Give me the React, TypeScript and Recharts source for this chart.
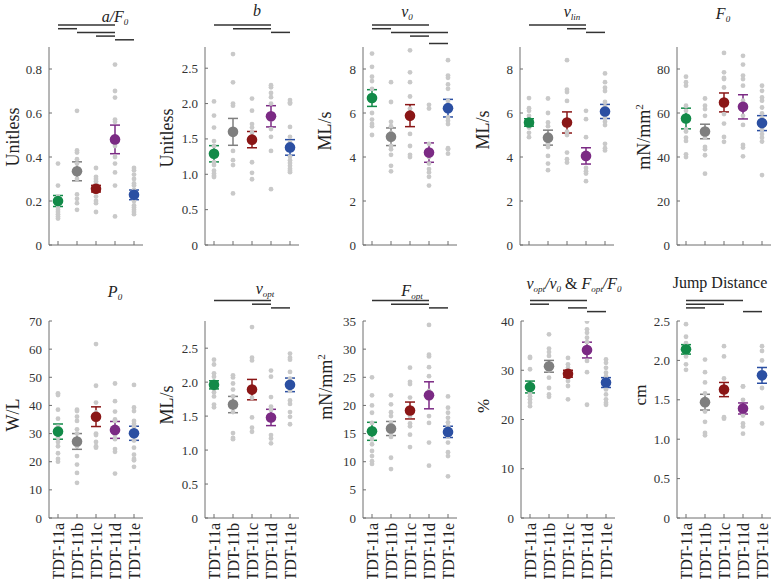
import React from "react"
import { ScatterChart, Scatter, XAxis, YAxis, ErrorBar, ReferenceLine } from "recharts"

const groups = ["TDT-11a", "TDT-11b", "TDT-11c", "TDT-11d", "TDT-11e"]
const groupColors = ["#128a48", "#7f7f7f", "#8a1616", "#7b2a84", "#2b4fa2"]

// a/F0
const aF0Values = [
  [0.37, 0.27, 0.22, 0.19, 0.17, 0.16, 0.15, 0.14, 0.13, 0.12],
  [0.61, 0.43, 0.42, 0.39, 0.37, 0.33, 0.3, 0.23, 0.21, 0.19, 0.16],
  [0.35, 0.31, 0.3, 0.29, 0.28, 0.27, 0.26, 0.25, 0.24, 0.22, 0.2, 0.19, 0.15],
  [0.82, 0.7, 0.67, 0.57, 0.56, 0.45, 0.4, 0.37, 0.33, 0.27, 0.13],
  [0.35, 0.34, 0.32, 0.3, 0.28, 0.27, 0.25, 0.23, 0.21, 0.2, 0.18, 0.17, 0.16, 0.15, 0.14],
]
const aF0Means = [0.2, 0.335, 0.256, 0.48, 0.228]
const aF0Sem = [0.025, 0.043, 0.015, 0.065, 0.022]
const aF0Sig = [[0, 3, 0], [0, 1, 1], [1, 3, 2], [2, 3, 3], [3, 4, 4]]

// b
const bValues = [
  [2.03, 1.83, 1.66, 1.47, 1.4, 1.17, 1.13, 1.05, 1.01, 0.98, 0.96],
  [2.7, 2.3, 2.0, 1.97, 1.6, 1.33, 1.2, 1.13, 0.73],
  [2.07, 1.9, 1.71, 1.66, 1.59, 1.49, 1.17, 1.02, 0.93],
  [2.26, 2.23, 2.15, 2.09, 2.0, 1.78, 1.64, 1.53, 1.33, 0.79],
  [2.05, 2.02, 2.0, 1.67, 1.53, 1.45, 1.38, 1.25, 1.2, 1.16, 1.12, 1.08, 1.05, 1.03],
]
const bMeans = [1.29, 1.6, 1.49, 1.82, 1.38]
const bSem = [0.115, 0.19, 0.115, 0.15, 0.11]
const bSig = [[0, 3, 0], [1, 3, 1], [3, 4, 2]]

// v0
const v0Values = [
  [8.7, 8.1, 7.65, 7.45, 7.1, 6.7, 6.0, 5.7, 5.5, 5.4, 5.0],
  [7.4, 6.5, 5.6, 5.4, 5.1, 4.5, 4.35, 4.1, 3.6, 3.35],
  [8.85, 7.85, 7.4, 6.75, 6.2, 5.9, 5.05, 4.5, 4.1, 4.0],
  [6.37, 6.2, 4.6, 4.0, 3.7, 3.45, 3.3, 3.1, 2.7],
  [8.4, 7.7, 7.6, 7.3, 7.1, 6.55, 5.8, 5.65, 5.5, 4.4, 4.35, 4.15],
]
const v0Means = [6.68, 4.92, 5.88, 4.2, 6.22]
const v0Sem = [0.38, 0.4, 0.5, 0.44, 0.4]
const v0Sig = [[0, 3, 0], [0, 1, 1], [1, 4, 2], [2, 3, 3], [3, 4, 5]]

// vlin
const vlinValues = [
  [6.68, 6.22, 6.1, 5.87, 5.72, 5.57, 5.34, 5.1, 4.9],
  [6.66, 6.0, 5.57, 5.4, 4.96, 4.6, 4.45, 4.05, 3.7, 3.4],
  [8.4, 7.06, 6.95, 6.55, 5.15, 5.0, 4.2, 3.9, 3.75],
  [6.1, 5.72, 4.9, 4.0, 3.5, 3.35, 3.25, 2.9],
  [7.8, 7.4, 7.15, 7.0, 6.5, 6.3, 6.0, 5.8, 5.6, 5.45, 4.6, 4.4, 4.3],
]
const vlinMeans = [5.57, 4.88, 5.57, 4.05, 6.07]
const vlinSem = [0.17, 0.34, 0.48, 0.37, 0.32]
const vlinSig = [[0, 3, 0], [2, 3, 1], [3, 4, 2]]

// F0
const f0Values = [
  [76.5, 74, 72.4, 63.3, 61, 57, 52.6, 51.6, 48.8, 47.3, 41.2, 40],
  [66.6, 63.3, 61.8, 58.7, 51.6, 48.8, 44.6, 43.5, 40.8, 32.4],
  [87.3, 78.5, 75.9, 75.4, 71.6, 65.3, 59.5, 55.2, 49.1, 46.9],
  [86, 82, 77, 75.4, 72.4, 65.6, 58.7, 54.6, 45.5, 44.3, 40.3],
  [72.4, 70.1, 67.1, 65.6, 62.5, 59.8, 57.7, 56.4, 54.6, 52.6, 50.4, 48.8, 47, 31.8],
]
const f0Means = [57.5, 51.6, 64.8, 62.8, 55.4]
const f0Sem = [4.7, 3.3, 4.3, 5.5, 3.4]
const f0Sig: number[][] = []

// P0
const p0Values = [
  [44.3, 43.7, 38.5, 35.3, 32.5, 30.5, 28.5, 27, 25.5, 23, 21, 20],
  [38.5, 38, 36, 34.5, 31.5, 30, 28, 25.5, 22, 19, 16, 12.5],
  [61.8, 47, 41, 37.5, 35, 30, 29.5, 27, 25.5, 25],
  [47.8, 41.5, 37.8, 35, 34.5, 32, 29.5, 28, 24.5, 23.5, 15.8],
  [47.3, 39.3, 38, 34.5, 33.5, 32.5, 30, 27.5, 25, 22.5, 21, 20.5, 18.2],
]
const p0Means = [30.7, 27.2, 36, 31.3, 30.1]
const p0Sem = [2.7, 2.8, 3.5, 3, 2.5]
const p0Sig: number[][] = []

// vopt
const voptValues = [
  [2.33, 2.26, 2.13, 2.08, 2.0, 1.95, 1.9, 1.85, 1.79, 1.67, 1.63],
  [2.1, 2.07, 1.98, 1.89, 1.79, 1.67, 1.56, 1.25, 1.18, 1.16],
  [2.81, 2.36, 2.32, 1.88, 1.86, 1.77, 1.48, 1.33, 1.27],
  [2.17, 2.08, 1.78, 1.64, 1.59, 1.49, 1.22, 1.17, 1.1],
  [2.42, 2.36, 2.33, 2.15, 2.05, 1.95, 1.87, 1.73, 1.68, 1.56, 1.49, 1.38],
]
const voptMeans = [1.96, 1.67, 1.89, 1.48, 1.96]
const voptSem = [0.06, 0.12, 0.15, 0.12, 0.1]
const voptSig = [[0, 3, 0], [2, 3, 1], [3, 4, 2]]

// Fopt
const foptValues = [
  [25, 21.8, 20, 18.7, 16.9, 14, 13.1, 11.9, 11, 10.1, 9.6],
  [21.8, 20.2, 18.8, 18.1, 16.9, 16, 15.1, 14.4, 10.7, 8.7],
  [26.7, 24.2, 23.8, 21.4, 19.4, 18.1, 16.8, 16.3, 14.8, 12.6],
  [34.3, 29, 28.7, 26.8, 25.2, 22.6, 18.1, 16.9, 13.4, 9.3],
  [21.6, 19.6, 18.7, 17.8, 17, 16.3, 15.7, 15.1, 14.5, 13.4, 11.7, 11, 7.4],
]
const foptMeans = [15.4, 15.9, 19.1, 21.8, 15.3]
const foptSem = [1.6, 1.25, 1.5, 2.4, 1.0]
const foptSig = [[0, 3, 0], [1, 3, 1], [3, 4, 2]]

// vopt/v0 & Fopt/F0
const ratioValues = [
  [32.7, 32.5, 30.2, 27.1, 25.4, 24.7, 24.1, 23.4, 22.7],
  [37.3, 34.4, 33.7, 32.9, 30.8, 30, 28.5, 26.4, 25.1, 24.6],
  [32.5, 31.2, 30.5, 29.8, 29.2, 28.5, 27.8, 26.8, 24.1],
  [39.9, 38.3, 37.6, 36.6, 35.7, 34.2, 31.9, 29.6, 23],
  [32.2, 31.5, 30.5, 29.5, 28.8, 27.8, 27.1, 26.1, 25.1, 24.1, 23.4, 23],
]
const ratioMeans = [26.6, 30.8, 29.3, 34.1, 27.5]
const ratioSem = [1.2, 1.2, 0.7, 1.6, 1.0]
const ratioSig = [[0, 3, 0], [0, 1, 1], [2, 3, 2], [3, 4, 3]]

// Jump distance
const jumpValues = [
  [2.46, 2.3, 2.22, 2.2, 2.18, 2.12, 2.05, 1.95, 1.88],
  [2.01, 1.85, 1.72, 1.58, 1.35, 1.22, 1.08, 1.05],
  [2.18, 2.05, 1.77, 1.63, 1.28, 1.26],
  [1.67, 1.67, 1.5, 1.38, 1.3, 1.2, 1.16, 1.07],
  [2.18, 2.12, 2.0, 1.85, 1.65, 1.4, 1.2],
]
const jumpMeans = [2.14, 1.47, 1.63, 1.39, 1.81]
const jumpSem = [0.06, 0.1, 0.09, 0.07, 0.1]
const jumpSig = [[0, 3, 0], [0, 2, 1], [0, 1, 2], [3, 4, 3]]

const serif = "Liberation Serif, DejaVu Serif, serif"
const axisColor = "#6e6e6e"

function XTick({ x, y, payload, showLabel }: any) {
  return (
    <g>
      <line x1={x} x2={x} y1={y} y2={y - 4} stroke={axisColor} />
      {showLabel && (
        <text
          x={x}
          y={y + 5}
          transform={`rotate(-90 ${x} ${y + 5})`}
          textAnchor="end"
          dy="0.35em"
          style={{ fontFamily: serif, fontSize: 16 }}
          fill="#222"
        >
          {groups[payload.value - 1]}
        </text>
      )}
    </g>
  )
}

function YTick({ x, y, payload, decimals }: any) {
  const v = payload.value
  const label = v === 0 ? "0" : v.toFixed(decimals)
  return (
    <g>
      <line x1={x + 7} x2={x + 10} y1={y} y2={y} stroke={axisColor} />
      <text x={x} y={y} textAnchor="end" dy="0.35em" style={{ fontFamily: serif, fontSize: 13 }} fill="#333">
        {label}
      </text>
    </g>
  )
}

function Panel({ axisX, bottomRow, values, means, sem, sig, yMax, yTicks, decimals }: any) {
  const plotH = bottomRow ? 197 : 198
  const xh = bottomRow ? 60 : 5
  const mb = bottomRow ? 3 : 10
  const top = bottomRow ? 274 : 0
  const base = bottomRow ? 20.5 : 22
  const cloud = values.flatMap((vals: number[], i: number) => vals.map((v) => ({ x: i + 1, y: v })))
  return (
    <div style={{ position: "absolute", left: axisX - 48, top }}>
      <ScatterChart width={146} height={47 + plotH + xh + mb} margin={{ top: 47, right: 4, bottom: mb, left: 0 }}>
        <XAxis
          type="number"
          dataKey="x"
          domain={[1 - 9 / 19, 5 + 9 / 19]}
          ticks={[1, 2, 3, 4, 5]}
          interval={0}
          height={xh}
          tickSize={0}
          tickMargin={0}
          tickLine={false}
          axisLine={{ stroke: axisColor }}
          tick={<XTick showLabel={bottomRow} />}
          allowDataOverflow
        />
        <YAxis
          type="number"
          dataKey="y"
          domain={[0, yMax]}
          ticks={yTicks}
          interval={0}
          width={48}
          tickSize={0}
          tickMargin={7}
          tickLine={false}
          axisLine={{ stroke: axisColor }}
          tick={<YTick decimals={decimals} />}
          allowDataOverflow
        />
        <Scatter
          data={cloud}
          isAnimationActive={false}
          shape={(p: any) => <circle cx={p.cx} cy={p.cy} r={2.4} fill="#c9c9c9" />}
        />
        {means.map((m: number, i: number) => (
          <Scatter
            key={i}
            data={[{ x: i + 1, y: m, err: sem[i] }]}
            isAnimationActive={false}
            shape={(p: any) => <circle cx={p.cx} cy={p.cy} r={5.3} fill={groupColors[i]} />}
          >
            <ErrorBar
              dataKey="err"
              direction="y"
              width={5}
              stroke={groupColors[i]}
              strokeWidth={1.5}
              isAnimationActive={false}
            />
          </Scatter>
        ))}
        {sig.map(([a, b, lvl]: number[], k: number) => {
          const y = yMax * (1 + (base - 3.7 * lvl) / plotH)
          return (
            <ReferenceLine
              key={k}
              segment={[{ x: a + 1, y }, { x: b + 1, y }]}
              stroke="#333"
              strokeWidth={1.5}
              ifOverflow="visible"
            />
          )
        })}
      </ScatterChart>
    </div>
  )
}

const sub = (t: string) => <sub style={{ fontSize: 9, verticalAlign: "-0.3em" }}>{t}</sub>

function Title({ x, y, children }: any) {
  return (
    <div
      style={{
        position: "absolute",
        left: x,
        top: y,
        transform: "translate(-50%, -50%)",
        whiteSpace: "nowrap",
        fontFamily: serif,
        fontSize: 16,
        color: "#222",
        lineHeight: 1,
      }}
    >
      {children}
    </div>
  )
}

function YLabel({ x, y, children, size = 18 }: any) {
  return (
    <div
      style={{
        position: "absolute",
        left: x,
        top: y,
        transform: "translate(-50%, -50%) rotate(-90deg)",
        whiteSpace: "nowrap",
        fontFamily: serif,
        fontSize: size,
        color: "#222",
        lineHeight: 1,
      }}
    >
      {children}
    </div>
  )
}

export default function App() {
  const it = { fontStyle: "italic" as const }
  return (
    <div
      style={{
        position: "absolute",
        left: 0,
        top: 0,
        width: 773,
        height: 579,
        overflow: "hidden",
        background: "#fff",
        fontFamily: serif,
      }}
    >
      <Panel axisX={49} values={aF0Values} means={aF0Means} sem={aF0Sem} sig={aF0Sig} yMax={0.9} yTicks={[0, 0.2, 0.4, 0.6, 0.8]} decimals={1} />
      <Panel axisX={205} values={bValues} means={bMeans} sem={bSem} sig={bSig} yMax={2.8} yTicks={[0, 0.5, 1, 1.5, 2, 2.5]} decimals={1} />
      <Panel axisX={363} values={v0Values} means={v0Means} sem={v0Sem} sig={v0Sig} yMax={9} yTicks={[0, 2, 4, 6, 8]} decimals={0} />
      <Panel axisX={520} values={vlinValues} means={vlinMeans} sem={vlinSem} sig={vlinSig} yMax={9} yTicks={[0, 2, 4, 6, 8]} decimals={0} />
      <Panel axisX={677} values={f0Values} means={f0Means} sem={f0Sem} sig={f0Sig} yMax={90} yTicks={[0, 20, 40, 60, 80]} decimals={0} />

      <Panel bottomRow axisX={49} values={p0Values} means={p0Means} sem={p0Sem} sig={p0Sig} yMax={70} yTicks={[0, 10, 20, 30, 40, 50, 60, 70]} decimals={0} />
      <Panel bottomRow axisX={205} values={voptValues} means={voptMeans} sem={voptSem} sig={voptSig} yMax={2.9} yTicks={[0, 0.5, 1, 1.5, 2, 2.5]} decimals={1} />
      <Panel bottomRow axisX={363} values={foptValues} means={foptMeans} sem={foptSem} sig={foptSig} yMax={35} yTicks={[0, 5, 10, 15, 20, 25, 30, 35]} decimals={0} />
      <Panel bottomRow axisX={521} values={ratioValues} means={ratioMeans} sem={ratioSem} sig={ratioSig} yMax={40} yTicks={[0, 10, 20, 30, 40]} decimals={0} />
      <Panel bottomRow axisX={677} values={jumpValues} means={jumpMeans} sem={jumpSem} sig={jumpSig} yMax={2.5} yTicks={[0, 0.5, 1, 1.5, 2, 2.5]} decimals={1} />

      <Title x={115} y={18}><span style={it}>a/F{sub("0")}</span></Title>
      <Title x={257} y={11}><span style={it}>b</span></Title>
      <Title x={407} y={13}><span style={it}>v{sub("0")}</span></Title>
      <Title x={572} y={13}><span style={it}>v{sub("lin")}</span></Title>
      <Title x={723} y={15}><span style={it}>F{sub("0")}</span></Title>
      <Title x={115} y={293}><span style={it}>P{sub("0")}</span></Title>
      <Title x={265} y={290}><span style={it}>v{sub("opt")}</span></Title>
      <Title x={412} y={292}><span style={it}>F{sub("opt")}</span></Title>
      <Title x={574} y={285}><span style={it}>v{sub("opt")}/v{sub("0")}</span> &amp; <span style={it}>F{sub("opt")}/F{sub("0")}</span></Title>
      <Title x={720} y={283}>Jump Distance</Title>

      <YLabel x={13} y={137}>Unitless</YLabel>
      <YLabel x={167} y={138}>Unitless</YLabel>
      <YLabel x={325} y={131}>ML/s</YLabel>
      <YLabel x={483} y={130}>ML/s</YLabel>
      <YLabel x={643} y={137}>mN/mm<sup style={{ fontSize: 11 }}>2</sup></YLabel>
      <YLabel x={13} y={415}>W/L</YLabel>
      <YLabel x={167} y={405}>ML/s</YLabel>
      <YLabel x={325} y={387}>mN/mm<sup style={{ fontSize: 11 }}>2</sup></YLabel>
      <YLabel x={483} y={406} size={17}>%</YLabel>
      <YLabel x={640} y={395} size={17}>cm</YLabel>
    </div>
  )
}
